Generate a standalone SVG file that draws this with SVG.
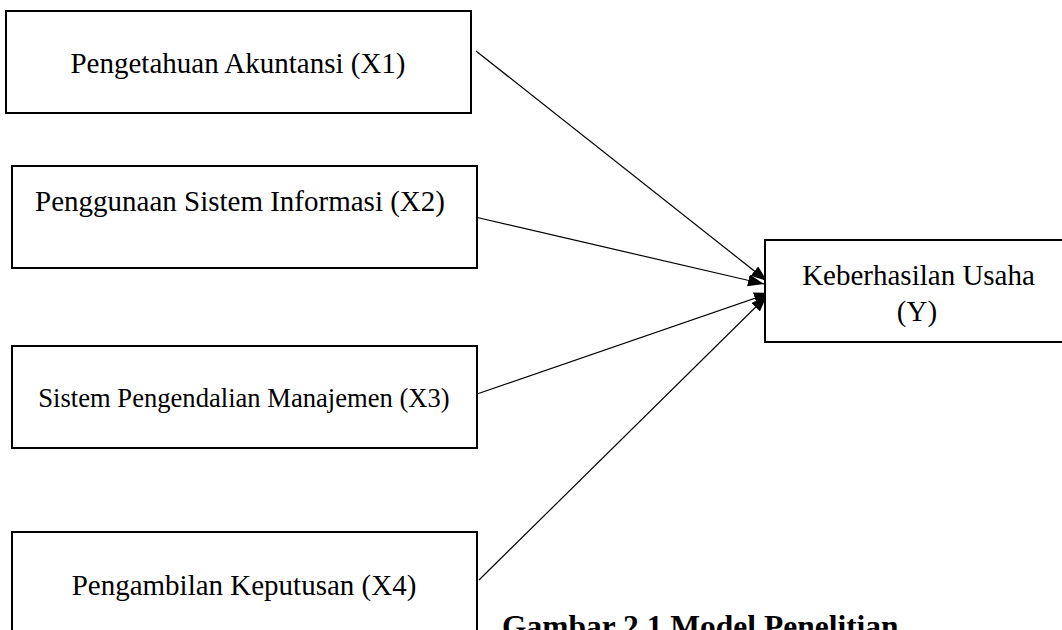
<svg xmlns="http://www.w3.org/2000/svg" width="1062" height="630" viewBox="0 0 1062 630">
<defs>
<style>
.box{fill:#fff;stroke:#000;stroke-width:2}
.lbl{font-family:"Liberation Serif","Times New Roman",serif;font-size:29px;fill:#000;text-anchor:middle}
.edge{stroke:#000;stroke-width:1.2;fill:none;marker-end:url(#ah)}
.cap{font-family:"Liberation Serif","Times New Roman",serif;font-size:31.5px;font-weight:bold;fill:#000}
</style>
<marker id="ah" markerUnits="userSpaceOnUse" markerWidth="17" markerHeight="13" refX="16" refY="6" orient="auto">
<path d="M0,0 L16,6 L0,12 z" fill="#000"/>
</marker>
</defs>
<rect width="1062" height="630" fill="#fff"/>
<g id="connectors">
<line class="edge" x1="476" y1="51" x2="767" y2="281"/>
<line class="edge" x1="475" y1="217" x2="764" y2="284"/>
<line class="edge" x1="477" y1="394" x2="770" y2="293"/>
<line class="edge" x1="479" y1="580" x2="767" y2="296"/>
</g>
<g id="x1">
<rect class="box" x="6" y="11" width="465" height="102"/>
<text class="lbl" x="238" y="73">Pengetahuan Akuntansi (X1)</text>
</g>
<g id="x2">
<rect class="box" x="12" y="166" width="465" height="102"/>
<text class="lbl" x="240" y="211">Penggunaan Sistem Informasi (X2)</text>
</g>
<g id="x3">
<rect class="box" x="12" y="346" width="465" height="102"/>
<text class="lbl" x="244" y="407" style="font-size:26.6px">Sistem Pengendalian Manajemen (X3)</text>
</g>
<g id="x4">
<rect class="box" x="12" y="532" width="465" height="120"/>
<text class="lbl" x="244" y="595">Pengambilan Keputusan (X4)</text>
</g>
<g id="y">
<rect class="box" x="765" y="240" width="310" height="102"/>
<text class="lbl" x="918.5" y="284.5">Keberhasilan Usaha</text>
<text class="lbl" x="917" y="321">(Y)</text>
</g>
<text class="cap" x="502" y="637">Gambar 2.1 Model Penelitian</text>
</svg>
